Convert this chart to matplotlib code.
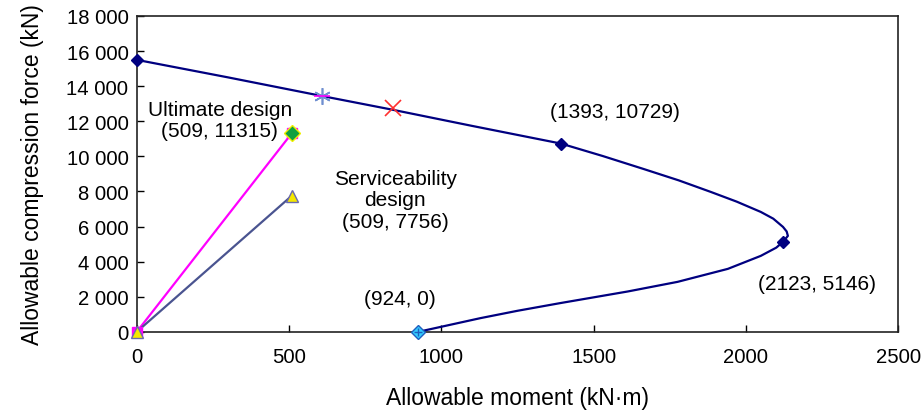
import matplotlib
matplotlib.use("Agg")
import matplotlib.pyplot as plt
from matplotlib.ticker import FuncFormatter

plt.rcParams["font.family"] = ["Liberation Sans", "DejaVu Sans"]

# interaction curve
curve_m = [0, 300, 608, 842, 1100, 1393, 1530, 1664, 1780, 1885, 1970, 2049,
           2090, 2122, 2134, 2138, 2123, 2100, 2049, 1941, 1776, 1612, 1391,
           1250, 1128, 924]
curve_n = [15500, 14500, 13440, 12650, 11740, 10729, 10020, 9282, 8630, 7973,
           7420, 6834, 6450, 5980, 5720, 5470, 5146, 4800, 4330, 3590, 2850,
           2300, 1640, 1200, 780, 0]
key_m = [0, 1393, 2123]
key_n = [15500, 10729, 5146]
pure_bend = (924, 0)
star_pt = (608, 13440)
cross_pt = (842, 12756)
ultimate = ([0, 509], [0, 11315])
service = ([0, 509], [0, 7756])

fig = plt.figure(figsize=(9.24, 4.14), dpi=100)
ax = fig.add_axes([0.148, 0.196, 0.824, 0.763])

ax.plot(curve_m, curve_n, color="#000080", lw=1.6, zorder=3,
        solid_joinstyle="round")
ax.plot(key_m, key_n, ls="none", marker="D", ms=6, color="#000080", zorder=4,
        clip_on=False)
ax.plot(*pure_bend, marker="D", ms=7, mfc="#33ccff", mec="#1f5fbf", zorder=5,
        clip_on=False)
ax.plot(*pure_bend, marker="+", ms=6, color="#1f5fbf", mew=1, zorder=6,
        clip_on=False)

ax.plot(*star_pt, marker=(6, 2, 0), ms=12, color="#6f8fd0", mew=1.2, zorder=5)
ax.plot(*star_pt, marker="_", ms=12, color="#ff00ff", mew=1.2, zorder=5)
ax.plot(*cross_pt, marker="x", ms=12, color="#ff3030", mew=1.2, zorder=5)

ax.plot(*ultimate, color="#ff00ff", lw=1.6, zorder=3)
ax.plot(ultimate[0], ultimate[1], ls="none", marker="s", ms=7,
        color="#ff00ff", zorder=4, clip_on=False)
ax.plot(ultimate[0][1], ultimate[1][1], marker="D", ms=8, mfc="#10a040",
        mec="#f0f000", mew=1, zorder=5)

ax.plot(*service, color="#4a5490", lw=1.6, zorder=3)
ax.plot(*service, ls="none", marker="^", ms=9, mfc="#f5e800", mec="#6a6ab0",
        mew=1, zorder=6, clip_on=False)

fs = 15
ax.text(273, 12070, "Ultimate design\n(509, 11315)", ha="center", va="center",
        fontsize=fs, linespacing=1.15)
ax.text(849, 7517, "Serviceability\ndesign\n(509, 7756)", ha="center",
        va="center", fontsize=fs, linespacing=1.15)
ax.text(1569, 12530, "(1393, 10729)", ha="center", va="center", fontsize=fs)
ax.text(2233, 2733, "(2123, 5146)", ha="center", va="center", fontsize=fs)
ax.text(865, 1880, "(924, 0)", ha="center", va="center", fontsize=fs)

ax.set_xlim(0, 2500)
ax.set_ylim(0, 18000)
ax.set_xticks(range(0, 2501, 500))
ax.set_yticks(range(0, 18001, 2000))
ax.yaxis.set_major_formatter(FuncFormatter(lambda v, p: f"{int(v):,}".replace(",", " ")))
ax.tick_params(direction="in", length=5, width=1, labelsize=14.6)
ax.tick_params(axis="x", pad=11)
ax.tick_params(axis="y", pad=6)
for s in ax.spines.values():
    s.set_linewidth(1.2)
    s.set_color("#222222")
ax.set_xlabel("Allowable moment (kN·m)", fontsize=16.5, labelpad=14)
ax.set_ylabel("Allowable compression force (kN)", fontsize=16.5, labelpad=16)

fig.savefig("out.png", dpi=100)
